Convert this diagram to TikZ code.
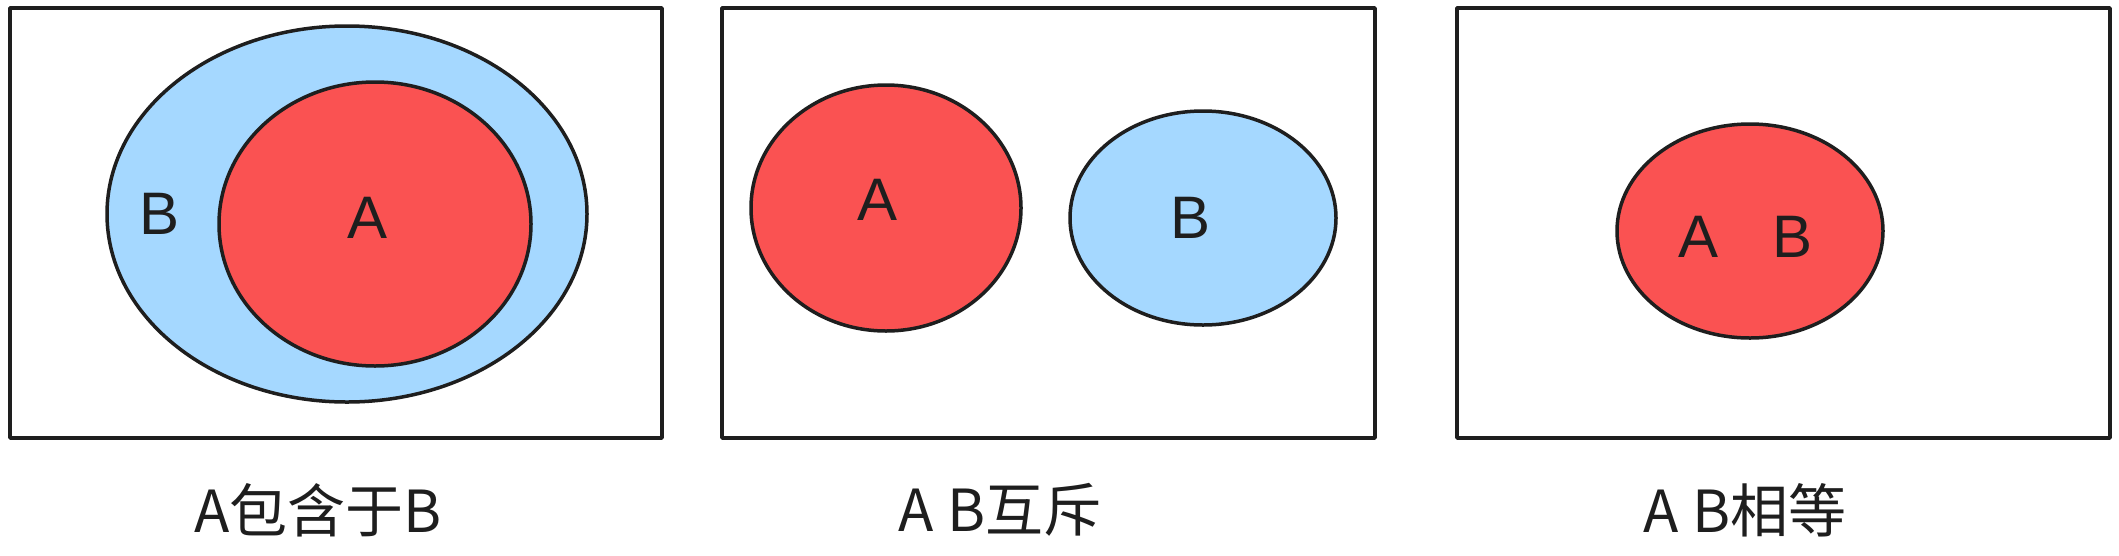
\documentclass[tikz,border=0pt]{standalone}
\usepackage{fontspec}
\setmainfont{Liberation Sans}
\newfontfamily\cjk{Noto Sans CJK SC}
\definecolor{lblue}{HTML}{A5D8FF}
\definecolor{lred}{HTML}{FA5252}
\definecolor{ink}{HTML}{1E1E1E}
\begin{document}
\begin{tikzpicture}[x=1pt,y=-1pt,
  frame/.style={draw=ink,line width=3.5pt,line join=round},
  blob/.style={draw=ink,line width=3.5pt},
  lbl/.style={text=ink,font=\fontsize{60}{60}\selectfont},
  captext/.style={text=ink,font=\cjk\fontsize{58}{58}\selectfont}]
\useasboundingbox (0,0) rectangle (2119,555);
\fill[white] (0,0) rectangle (2119,555);
\draw[frame] (10,8) rectangle (662,438);
\draw[frame] (722,8) rectangle (1375,438);
\draw[frame] (1457,8) rectangle (2110,438);
\draw[blob,fill=lblue] (347,214) ellipse [x radius=240,y radius=188];
\draw[blob,fill=lred] (375,224) ellipse [x radius=156,y radius=142];
\draw[blob,fill=lred] (886,208) ellipse [x radius=135,y radius=123];
\draw[blob,fill=lblue] (1203,218) ellipse [x radius=133,y radius=107];
\draw[blob,fill=lred] (1750,231) ellipse [x radius=133,y radius=107];
\node[lbl] (b1) at (160,214) {B};
\node[lbl] (a1) at (368,218) {A};
\node[lbl] (a2) at (877,200) {A};
\node[lbl] (b2) at (1190,218) {B};
\node[lbl] (a3) at (1698,237) {A};
\node[lbl] (b3) at (1792,237) {B};
\node[captext] (c1) at (318,510) {A包含于B};
\node[captext] (c2) at (1000,510) {A B互斥};
\node[captext] (c3) at (1745,510) {A B相等};
\end{tikzpicture}
\end{document}
